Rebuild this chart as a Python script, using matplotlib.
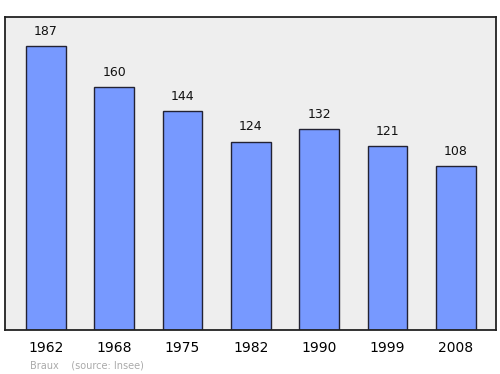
import matplotlib
matplotlib.use("Agg")
import matplotlib.pyplot as plt

years = ["1962", "1968", "1975", "1982", "1990", "1999", "2008"]
population = [187, 160, 144, 124, 132, 121, 108]

fig = plt.figure(figsize=(5, 3.74), dpi=100)
ax = fig.add_axes([0.01, 0.1176, 0.982, 0.837])
ax.set_facecolor("#eeeeee")

x = list(range(len(years)))
ax.bar(x, population, width=0.58, color="#7799ff", edgecolor="#222233", linewidth=1.0, zorder=2)

for xi, v in zip(x, population):
    ax.annotate(str(v), (xi, v), xytext=(0, 6), textcoords="offset points",
                ha="center", va="bottom", fontsize=9, color="#111111")

ax.set_xlim(-0.6, 6.59)
ax.set_ylim(0, 206)
ax.set_yticks([])
ax.set_xticks(x)
ax.set_xticklabels(years, fontsize=10)
ax.tick_params(axis="x", length=0, pad=8)
for s in ax.spines.values():
    s.set_linewidth(1.3)
    s.set_color("#222222")

fig.text(0.06, 0.01, "Braux    (source: Insee)", fontsize=7, color="#aaaaaa", ha="left", va="bottom")

fig.savefig("out.png", dpi=100)
